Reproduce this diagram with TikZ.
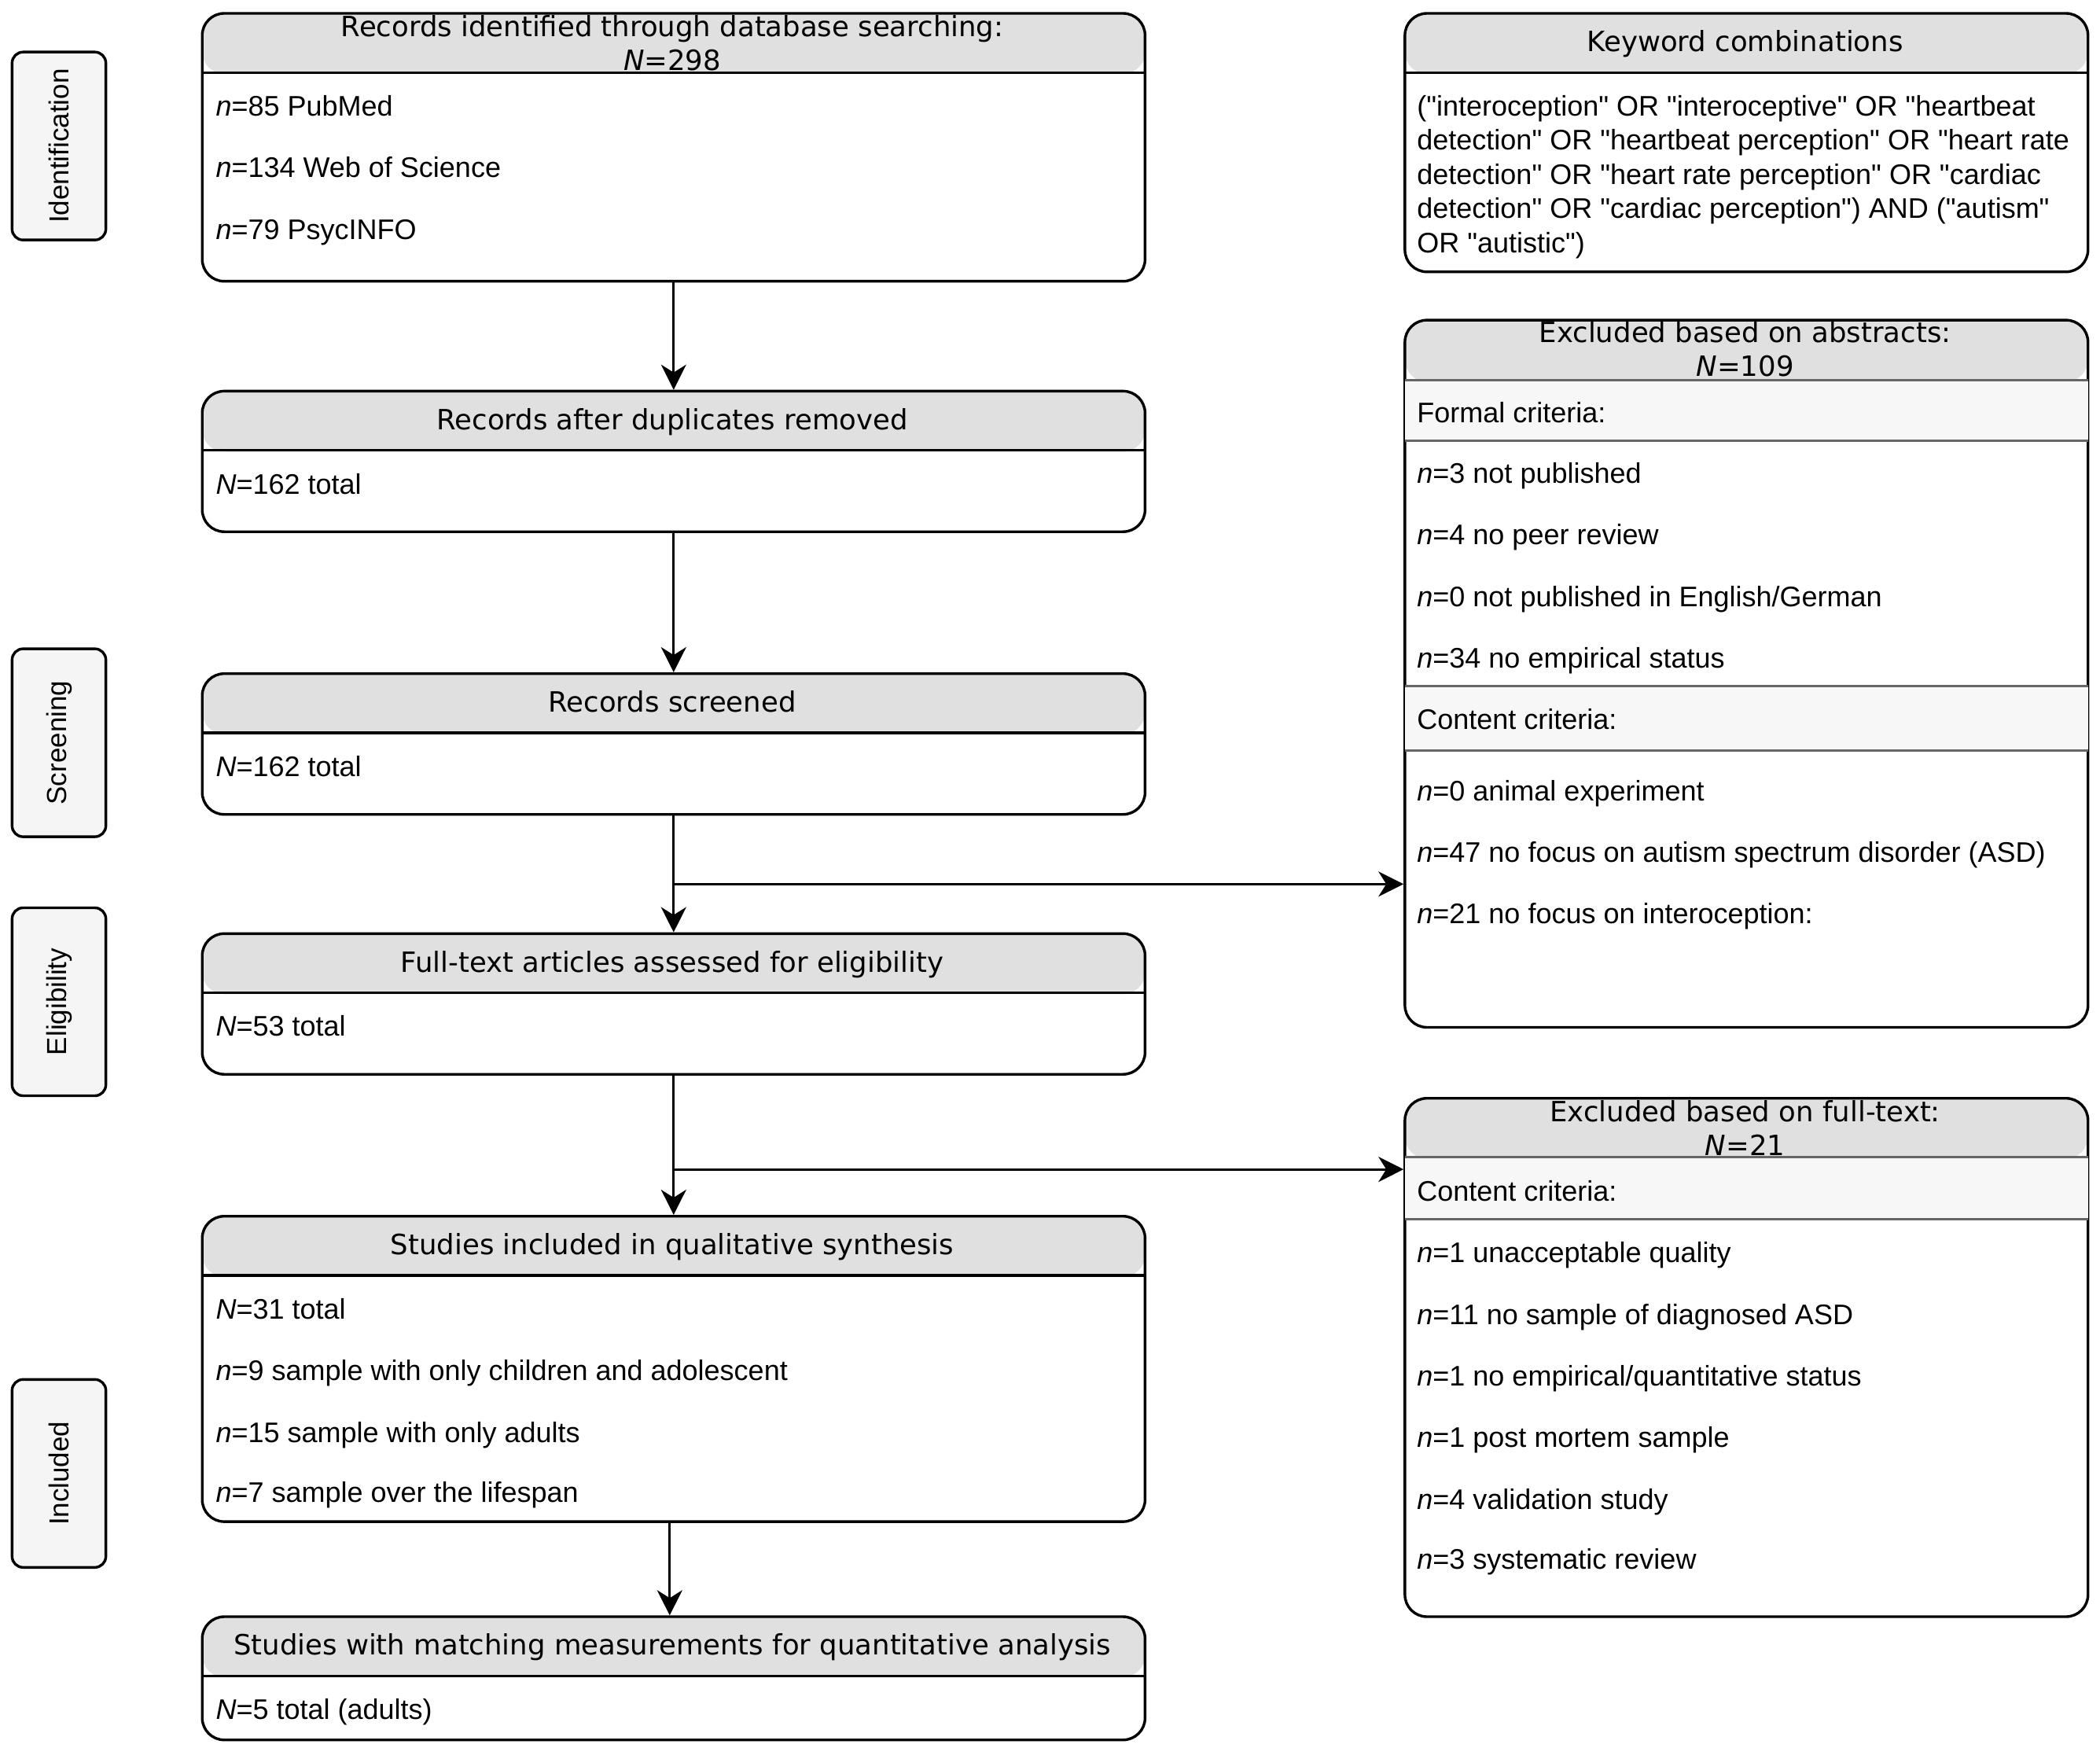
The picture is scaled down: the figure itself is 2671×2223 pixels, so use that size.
\documentclass[tikz,border=0pt]{standalone}
\usepackage{fontspec}
\setmainfont{Liberation Sans}
\newfontfamily\hdrfamily{DejaVu Sans}
\usetikzlibrary{arrows.meta}
\definecolor{hdrgray}{HTML}{E0E0E0}
\definecolor{subgray}{HTML}{F7F7F7}
\definecolor{lblgray}{HTML}{F5F5F5}
\definecolor{divgray}{HTML}{666666}
\newcommand\mybfont{\fontsize{36}{43.5}\selectfont}
\newcommand\myhfont{\hdrfamily\fontsize{35.5}{42.6}\selectfont}
\newcommand\qd{\textquotedbl}
\begin{document}
\begin{tikzpicture}[x=1pt,y=-1pt,
  box/.style={draw=black, line width=3.4pt, rounded corners=28pt, inner sep=0pt,
    anchor=north west, fill=white, minimum width=1199.2pt},
  rbox/.style={box, minimum width=868.8pt},
  hdr/.style={path picture={\fill[hdrgray] (path picture bounding box.north west)
    rectangle ([yshift=-#1]path picture bounding box.north east);}},
  item/.style={anchor=base west, yshift=-13pt, inner sep=0pt, font=\mybfont},
  htext/.style={anchor=base, yshift=-13pt, inner sep=0pt, align=center, font=\myhfont},
  lbl/.style={draw=black, line width=3.4pt, rounded corners=14pt, fill=lblgray,
    rotate=90, minimum width=239pt, minimum height=119.3pt, inner sep=0pt,
    font=\fontsize{35}{40}\selectfont},
  sep/.style={line width=3.4pt},
  gsep/.style={line width=3pt, draw=divgray},
  arr/.style={line width=3pt, -{Stealth[length=32pt,width=32pt,inset=10pt]}}
]
\useasboundingbox (0,0) rectangle (2671,2223);

% side labels
\node[lbl] (lid) at (75,185.7) {Identification};
\node[lbl] (lsc) at (75,944.6) {Screening};
\node[lbl] (lel) at (75,1274) {Eligibility};
\node[lbl] (lin) at (75,1873.8) {Included};

% left column boxes
\node[box, hdr=77pt, minimum height=340.7pt] (b1) at (255.5,15.3) {};
\node[box, hdr=77pt, minimum height=178.8pt] (b2) at (255.5,495.7) {};
\node[box, hdr=77pt, minimum height=179pt] (b3) at (255.5,855) {};
\node[box, hdr=77pt, minimum height=178.9pt] (b4) at (255.5,1185.6) {};
\node[box, hdr=77pt, minimum height=388.4pt] (b5) at (255.5,1545) {};
\node[box, hdr=77pt, minimum height=156.7pt] (b6) at (255.5,2054.3) {};
\foreach \b in {b1,b2,b3,b4,b5,b6}
  \draw[sep] ([yshift=-77pt]\b.north west) -- ([yshift=-77pt]\b.north east);

% right column boxes
\node[rbox, hdr=77pt, minimum height=328.7pt] (k) at (1785.2,15.3) {};
\node[rbox, hdr=78.4pt, minimum height=899.4pt] (e1) at (1785.2,405.4) {};
\node[rbox, hdr=76.8pt, minimum height=659.3pt] (e2) at (1785.2,1395) {};
\draw[sep] ([yshift=-77pt]k.north west) -- ([yshift=-77pt]k.north east);
% sub sections of e1
\fill[subgray] ([xshift=1.7pt,yshift=-78.4pt]e1.north west) rectangle ([xshift=-1.7pt,yshift=-155pt]e1.north east);
\fill[subgray] ([xshift=1.7pt,yshift=-466.8pt]e1.north west) rectangle ([xshift=-1.7pt,yshift=-548.6pt]e1.north east);
\foreach \d in {78.4,155,466.8,548.6}
  \draw[gsep] ([xshift=1.7pt,yshift=-\d pt]e1.north west) -- ([xshift=-1.7pt,yshift=-\d pt]e1.north east);
% sub section of e2
\fill[subgray] ([xshift=1.7pt,yshift=-76.8pt]e2.north west) rectangle ([xshift=-1.7pt,yshift=-155pt]e2.north east);
\foreach \d in {76.8,155}
  \draw[gsep] ([xshift=1.7pt,yshift=-\d pt]e2.north west) -- ([xshift=-1.7pt,yshift=-\d pt]e2.north east);

% texts: box 1 (multi-line nodes are placed by their last line)
\node[htext] (b1h) at (855.1,76.6) {Records identified through database searching:\\\textit{N}=298};
\node[item] (b1i1) at (274.3,134.6) {\textit{n}=85 PubMed};
\node[item] (b1i2) at (274.3,213) {\textit{n}=134 Web of Science};
\node[item] (b1i3) at (274.3,291.3) {\textit{n}=79 PsycINFO};
% box 2
\node[htext] (b2h) at (855.1,533) {Records after duplicates removed};
\node[item] (b2i1) at (274.3,615) {\textit{N}=162 total};
% box 3
\node[htext] (b3h) at (855.1,892.6) {Records screened};
\node[item] (b3i1) at (274.3,974.4) {\textit{N}=162 total};
% box 4
\node[htext] (b4h) at (855.1,1223) {Full-text articles assessed for eligibility};
\node[item] (b4i1) at (274.3,1304.8) {\textit{N}=53 total};
% box 5
\node[htext] (b5h) at (855.1,1582.5) {Studies included in qualitative synthesis};
\node[item] (b5i1) at (274.3,1664.3) {\textit{N}=31 total};
\node[item] (b5i2) at (274.3,1742.6) {\textit{n}=9 sample with only children and adolescent};
\node[item] (b5i3) at (274.3,1821) {\textit{n}=15 sample with only adults};
\node[item] (b5i4) at (274.3,1897.6) {\textit{n}=7 sample over the lifespan};
% box 6
\node[htext] (b6h) at (855.1,2091.8) {Studies with matching measurements for quantitative analysis};
\node[item] (b6i1) at (274.3,2173.6) {\textit{N}=5 total (adults)};

% keyword box
\node[htext] (kh) at (2219.6,52.8) {Keyword combinations};
\node[item, align=left] (kt) at (1802.2,308.3) {(\qd interoception\qd{} OR \qd interoceptive\qd{} OR \qd heartbeat\\
detection\qd{} OR \qd heartbeat perception\qd{} OR \qd heart rate\\
detection\qd{} OR \qd heart rate perception\qd{} OR \qd cardiac\\
detection\qd{} OR \qd cardiac perception\qd) AND (\qd autism\qd\\
OR \qd autistic\qd)};

% excluded abstracts
\node[htext] (e1h) at (2219.6,465) {Excluded based on abstracts:\\\textit{N}=109};
\node[item] (e1f) at (1802.2,524.7) {Formal criteria:};
\node[item] (e1i1) at (1802.2,601.3) {\textit{n}=3 not published};
\node[item] (e1i2) at (1802.2,679.7) {\textit{n}=4 no peer review};
\node[item] (e1i3) at (1802.2,758) {\textit{n}=0 not published in English/German};
\node[item] (e1i4) at (1802.2,836.4) {\textit{n}=34 no empirical status};
\node[item] (e1c) at (1802.2,914.7) {Content criteria:};
\node[item] (e1i5) at (1802.2,1005) {\textit{n}=0 animal experiment};
\node[item] (e1i6) at (1802.2,1083.4) {\textit{n}=47 no focus on autism spectrum disorder (ASD)};
\node[item] (e1i7) at (1802.2,1161.7) {\textit{n}=21 no focus on interoception:};

% excluded full text
\node[htext] (e2h) at (2219.6,1456.4) {Excluded based on full-text:\\\textit{N}=21};
\node[item] (e2c) at (1802.2,1514.4) {Content criteria:};
\node[item] (e2i1) at (1802.2,1592.7) {\textit{n}=1 unacceptable quality};
\node[item] (e2i2) at (1802.2,1671) {\textit{n}=11 no sample of diagnosed ASD};
\node[item] (e2i3) at (1802.2,1749.4) {\textit{n}=1 no empirical/quantitative status};
\node[item] (e2i4) at (1802.2,1827.8) {\textit{n}=1 post mortem sample};
\node[item] (e2i5) at (1802.2,1906.2) {\textit{n}=4 validation study};
\node[item] (e2i6) at (1802.2,1982.8) {\textit{n}=3 systematic review};

% connectors
\coordinate (br1) at (855.1,1124.3);
\coordinate (br2) at (855.1,1487.1);
\draw[arr] (b1.south) -- (b2.north);
\draw[arr] (b2.south) -- (b3.north);
\draw[arr] (b3.south) -- (b4.north);
\draw[arr] (br1) -- (br1 -| e1.west);
\draw[arr] (b4.south) -- (b5.north);
\draw[arr] (br2) -- (br2 -| e2.west);
\draw[arr] ([xshift=-5pt]b5.south) -- ([xshift=-5pt]b6.north);
\end{tikzpicture}
\end{document}
